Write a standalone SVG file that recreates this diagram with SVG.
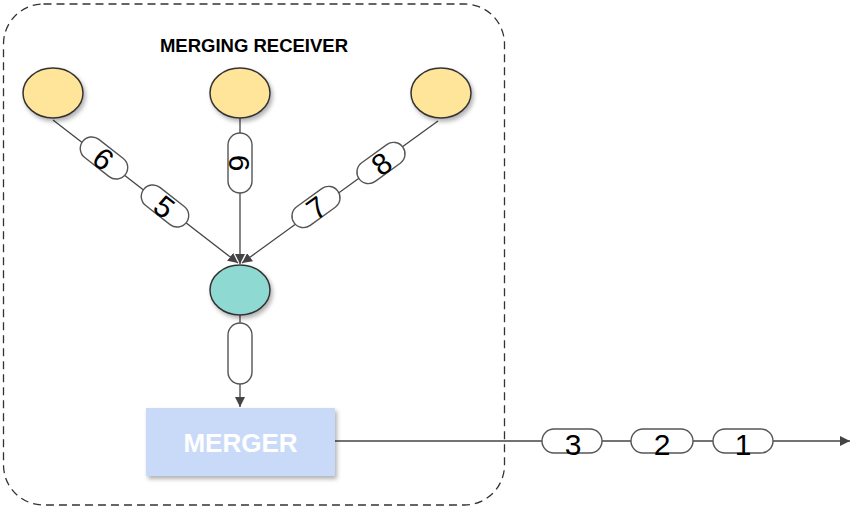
<svg xmlns="http://www.w3.org/2000/svg" width="853" height="509" viewBox="0 0 853 509">
  <defs>
    <style>
      .edge { fill: none; stroke: #444; stroke-width: 1.3; }
      .pill { fill: #fff; stroke: #555; stroke-width: 1.4; }
      .digit { font-family: "Liberation Sans", Arial, sans-serif; font-size: 30px; fill: #000; text-anchor: middle; }
      .src { fill: #ffe599; stroke: #333; stroke-width: 1.5; }
      .hub { fill: #8fd9d3; stroke: #333; stroke-width: 1.5; }
    </style>
    <marker id="arrow" viewBox="0 0 10 10" refX="10" refY="5" markerWidth="10" markerHeight="10" markerUnits="userSpaceOnUse" orient="auto">
      <path d="M0,0 L10,5 L0,10 Z" fill="#444"/>
    </marker>
    <filter id="shadow" x="-20%" y="-20%" width="150%" height="160%">
      <feDropShadow dx="2" dy="3" stdDeviation="2" flood-color="#000" flood-opacity="0.3"/>
    </filter>
  </defs>

  <rect width="853" height="509" fill="#fff"/>

  <!-- container -->
  <g id="receiver">
    <rect x="3.5" y="4" width="501" height="501" rx="40" ry="40" fill="none" stroke="#333" stroke-width="1.3" stroke-dasharray="8 5"/>
    <text x="254" y="52" font-family="Liberation Sans, Arial, sans-serif" font-size="18.5" font-weight="bold" text-anchor="middle" fill="#000">MERGING RECEIVER</text>
  </g>

  <!-- connectors -->
  <g id="connectors">
    <line class="edge" x1="53" y1="120" x2="238" y2="263" marker-end="url(#arrow)"/>
    <line class="edge" x1="240" y1="118" x2="240" y2="264" marker-end="url(#arrow)"/>
    <line class="edge" x1="438" y1="121" x2="242" y2="263" marker-end="url(#arrow)"/>
    <line class="edge" x1="240" y1="315" x2="240" y2="407" marker-end="url(#arrow)"/>
    <line class="edge" x1="335" y1="441" x2="850" y2="441" marker-end="url(#arrow)"/>
  </g>

  <!-- sources -->
  <g id="source-left"><ellipse class="src" cx="53" cy="93" rx="30" ry="25" filter="url(#shadow)"/></g>
  <g id="source-middle"><ellipse class="src" cx="240" cy="93" rx="30" ry="25" filter="url(#shadow)"/></g>
  <g id="source-right"><ellipse class="src" cx="441" cy="93" rx="30" ry="25" filter="url(#shadow)"/></g>

  <!-- hub -->
  <g id="hub"><ellipse class="hub" cx="240" cy="290" rx="30" ry="25" filter="url(#shadow)"/></g>

  <!-- merger -->
  <g id="merger">
    <rect x="146" y="408" width="189" height="68" fill="#c9daf8" filter="url(#shadow)"/>
    <text x="240.5" y="452" font-family="Liberation Sans, Arial, sans-serif" font-size="26" font-weight="bold" text-anchor="middle" fill="#fff">MERGER</text>
  </g>

  <!-- messages on the left link -->
  <g id="msg-6-left" transform="translate(104,158) rotate(38)">
    <rect class="pill" x="-27" y="-11.5" width="54" height="23" rx="11.5"/>
    <text class="digit" x="0" y="11.5">6</text>
  </g>
  <g id="msg-5" transform="translate(165,206) rotate(38)">
    <rect class="pill" x="-27" y="-11.5" width="54" height="23" rx="11.5"/>
    <text class="digit" x="0" y="11.5">5</text>
  </g>

  <!-- message on the middle link -->
  <g id="msg-6-middle" transform="translate(240,163) rotate(90)">
    <rect class="pill" x="-30" y="-12" width="60" height="24" rx="12"/>
    <text class="digit" x="0" y="11">6</text>
  </g>

  <!-- messages on the right link -->
  <g id="msg-8" transform="translate(381,163) rotate(-36)">
    <rect class="pill" x="-27" y="-11.5" width="54" height="23" rx="11.5"/>
    <text class="digit" x="0" y="11.5">8</text>
  </g>
  <g id="msg-7" transform="translate(316,207) rotate(-36)">
    <rect class="pill" x="-27" y="-11.5" width="54" height="23" rx="11.5"/>
    <text class="digit" x="0" y="11.5">7</text>
  </g>

  <!-- empty message between hub and merger -->
  <g id="msg-empty">
    <rect class="pill" x="228" y="323" width="24" height="61" rx="12"/>
  </g>

  <!-- outgoing messages -->
  <g id="msg-3">
    <rect class="pill" x="542" y="429" width="60" height="24" rx="12"/>
    <text class="digit" x="573" y="455">3</text>
  </g>
  <g id="msg-2">
    <rect class="pill" x="631" y="429" width="62" height="24" rx="12"/>
    <text class="digit" x="662" y="455">2</text>
  </g>
  <g id="msg-1">
    <rect class="pill" x="713" y="429" width="60" height="24" rx="12"/>
    <text class="digit" x="743" y="455">1</text>
  </g>
</svg>
